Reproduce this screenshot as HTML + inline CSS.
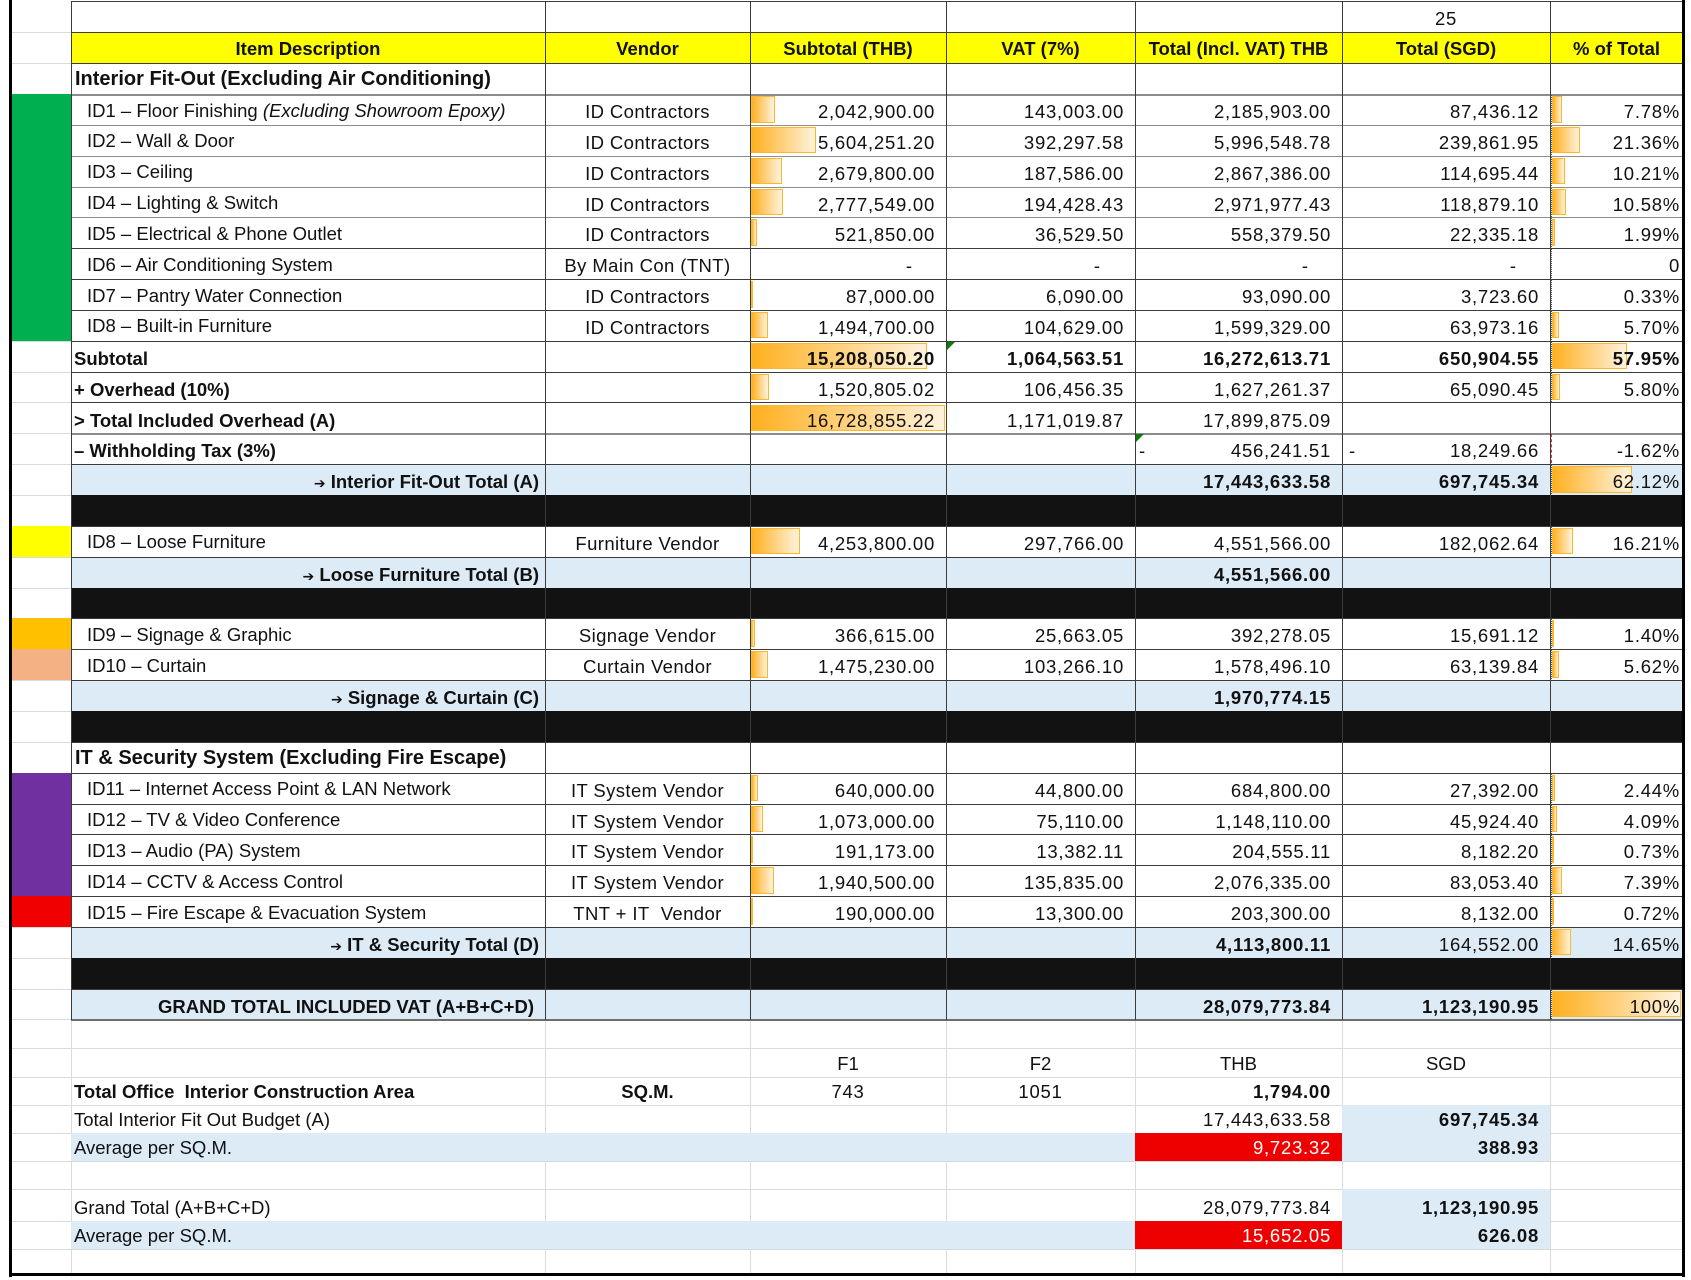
<!DOCTYPE html>
<html><head><meta charset="utf-8">
<style>
body{margin:0;background:#fff}
#p{position:relative;width:1691px;height:1280px;overflow:hidden;background:#fff;font-family:"Liberation Sans",Arial,sans-serif;font-size:18.5px;color:#111}
.a{position:absolute}
.h{position:absolute;height:1px;background:#3c3c3c}
.hg{position:absolute;height:1px;background:#8c8c8c}
.hl{position:absolute;height:1px;background:#dadada}
.v{position:absolute;width:1px;background:#3c3c3c}
.vl{position:absolute;width:1px;background:#dadada}
.r{position:absolute;left:0;width:1691px;height:30.85px}
.t{position:absolute;top:8px;line-height:20px;white-space:nowrap}
.ti{top:6.5px}
.hd{top:5.9px;font-size:20px;font-weight:bold;left:75px}
.n{letter-spacing:0.75px}
.vd{letter-spacing:0.4px}
.b{font-weight:bold}
.L{left:87px}
.S{left:74px;font-weight:bold}
.T{right:1152px;font-weight:bold}
.ar{font-family:"DejaVu Sans",sans-serif;font-size:14px;font-weight:bold}
.cB{left:71px;width:474px;text-align:center}
.cC{left:545px;width:205px;text-align:center}
.cD{left:750px;width:196px;text-align:center}
.cE{left:946px;width:189px;text-align:center}
.cF{left:1135px;width:207px;text-align:center}
.cG{left:1342px;width:208px;text-align:center}
.cH{left:1550px;width:133px;text-align:center}
.rD{right:756px}.rE{right:567px}.rF{right:360px}.rG{right:152px}.rH{right:11px}
.bar{position:absolute;top:2px;height:26.5px;box-sizing:border-box;border:1px solid #FFB628;background:linear-gradient(to right,#FFB020,#FFF3DE)}
.bD{left:751px}.bH{left:1552px}
.ax{position:absolute;left:1551px;top:1px;height:29px;width:0;border-left:1px dotted #555}
.tri{position:absolute;width:0;height:0;border-top:8px solid #0b7d0b;border-right:8px solid transparent}
</style></head><body><div id="p">

<div class="hl" style="left:12px;width:59px;top:32px"></div>
<div class="hl" style="left:12px;width:59px;top:63px"></div>
<div class="hl" style="left:12px;width:59px;top:94px"></div>
<div class="hl" style="left:12px;width:59px;top:341px"></div>
<div class="hl" style="left:12px;width:59px;top:372px"></div>
<div class="hl" style="left:12px;width:59px;top:402px"></div>
<div class="hl" style="left:12px;width:59px;top:433px"></div>
<div class="hl" style="left:12px;width:59px;top:464px"></div>
<div class="hl" style="left:12px;width:59px;top:495px"></div>
<div class="hl" style="left:12px;width:59px;top:526px"></div>
<div class="hl" style="left:12px;width:59px;top:557px"></div>
<div class="hl" style="left:12px;width:59px;top:588px"></div>
<div class="hl" style="left:12px;width:59px;top:618px"></div>
<div class="hl" style="left:12px;width:59px;top:680px"></div>
<div class="hl" style="left:12px;width:59px;top:711px"></div>
<div class="hl" style="left:12px;width:59px;top:742px"></div>
<div class="hl" style="left:12px;width:59px;top:773px"></div>
<div class="hl" style="left:12px;width:59px;top:927px"></div>
<div class="hl" style="left:12px;width:59px;top:958px"></div>
<div class="hl" style="left:12px;width:59px;top:989px"></div>
<div class="hl" style="left:12px;width:1670px;top:1019px"></div>
<div class="hl" style="left:12px;width:1670px;top:1048px"></div>
<div class="hl" style="left:12px;width:1670px;top:1077px"></div>
<div class="hl" style="left:12px;width:1670px;top:1105px"></div>
<div class="hl" style="left:12px;width:1670px;top:1133px"></div>
<div class="hl" style="left:12px;width:1670px;top:1161px"></div>
<div class="hl" style="left:12px;width:1670px;top:1189px"></div>
<div class="hl" style="left:12px;width:1670px;top:1221px"></div>
<div class="hl" style="left:12px;width:1670px;top:1249px"></div>
<div class="vl" style="left:71px;top:1020px;height:254px"></div>
<div class="vl" style="left:545px;top:1020px;height:254px"></div>
<div class="vl" style="left:750px;top:1020px;height:254px"></div>
<div class="vl" style="left:946px;top:1020px;height:254px"></div>
<div class="vl" style="left:1135px;top:1020px;height:254px"></div>
<div class="vl" style="left:1342px;top:1020px;height:254px"></div>
<div class="vl" style="left:1550px;top:1020px;height:254px"></div>

<div class="a" style="left:12px;width:59px;top:94px;height:246.8px;background:#00B050"></div>
<div class="a" style="left:12px;width:59px;top:525.9px;height:30.85px;background:#FFFF00"></div>
<div class="a" style="left:12px;width:59px;top:618.45px;height:30.85px;background:#FFC000"></div>
<div class="a" style="left:12px;width:59px;top:649.3px;height:30.85px;background:#F4B183"></div>
<div class="a" style="left:12px;width:59px;top:772.7px;height:123.4px;background:#7030A0"></div>
<div class="a" style="left:12px;width:59px;top:896.1px;height:30.85px;background:#F00000"></div>

<div class="a" style="left:71px;width:1612px;top:32.3px;height:30.85px;background:#FFFF00"></div>
<div class="a" style="left:71px;width:1612px;top:464.2px;height:30.85px;background:#DDEBF7"></div>
<div class="a" style="left:71px;width:1612px;top:556.75px;height:30.85px;background:#DDEBF7"></div>
<div class="a" style="left:71px;width:1612px;top:680.15px;height:30.85px;background:#DDEBF7"></div>
<div class="a" style="left:71px;width:1612px;top:926.95px;height:30.85px;background:#DDEBF7"></div>
<div class="a" style="left:71px;width:1612px;top:988.65px;height:30.85px;background:#DDEBF7"></div>
<div class="a" style="left:71px;width:1612px;top:495.05px;height:30.85px;background:#121212"></div>
<div class="a" style="left:71px;width:1612px;top:587.6px;height:30.85px;background:#121212"></div>
<div class="a" style="left:71px;width:1612px;top:711px;height:30.85px;background:#121212"></div>
<div class="a" style="left:71px;width:1612px;top:957.8px;height:30.85px;background:#121212"></div>

<div class="a" style="left:71px;width:1064px;top:1133px;height:28px;background:#DDEBF7"></div>
<div class="a" style="left:71px;width:1064px;top:1221px;height:28px;background:#DDEBF7"></div>
<div class="a" style="left:1135px;width:207px;top:1133px;height:28px;background:#EE0000"></div>
<div class="a" style="left:1135px;width:207px;top:1221px;height:28px;background:#EE0000"></div>
<div class="a" style="left:1342px;width:208px;top:1105px;height:56px;background:#DDEBF7"></div>
<div class="a" style="left:1342px;width:208px;top:1189px;height:60px;background:#DDEBF7"></div>

<div class="h" style="left:71px;width:1612px;top:1px"></div>
<div class="h" style="left:71px;width:1612px;top:32px"></div>
<div class="h" style="left:71px;width:1612px;top:63px"></div>
<div class="hg" style="left:71px;width:1612px;top:94px;height:2px"></div>
<div class="hg" style="left:71px;width:1612px;top:125px"></div>
<div class="hg" style="left:71px;width:1612px;top:156px"></div>
<div class="hg" style="left:71px;width:1612px;top:187px"></div>
<div class="hg" style="left:71px;width:1612px;top:217px"></div>
<div class="h" style="left:71px;width:1612px;top:248px"></div>
<div class="h" style="left:71px;width:1612px;top:279px"></div>
<div class="h" style="left:71px;width:1612px;top:310px"></div>
<div class="h" style="left:71px;width:1612px;top:341px"></div>
<div class="h" style="left:71px;width:1612px;top:372px"></div>
<div class="h" style="left:71px;width:1612px;top:402px"></div>
<div class="hg" style="left:71px;width:1612px;top:433px;height:2px"></div>
<div class="h" style="left:71px;width:1612px;top:464px"></div>
<div class="h" style="left:71px;width:1612px;top:526px"></div>
<div class="h" style="left:71px;width:1612px;top:557px"></div>
<div class="h" style="left:71px;width:1612px;top:618px"></div>
<div class="h" style="left:71px;width:1612px;top:649px"></div>
<div class="h" style="left:71px;width:1612px;top:680px"></div>
<div class="h" style="left:71px;width:1612px;top:742px"></div>
<div class="h" style="left:71px;width:1612px;top:773px"></div>
<div class="h" style="left:71px;width:1612px;top:804px"></div>
<div class="h" style="left:71px;width:1612px;top:834px"></div>
<div class="h" style="left:71px;width:1612px;top:865px"></div>
<div class="h" style="left:71px;width:1612px;top:896px"></div>
<div class="h" style="left:71px;width:1612px;top:927px"></div>
<div class="h" style="left:71px;width:1612px;top:989px"></div>
<div class="hg" style="left:71px;width:1612px;top:1019px;height:2px;background:#6e6e6e"></div>
<div class="v" style="left:71px;top:1px;height:1019px"></div>
<div class="v" style="left:545px;top:1px;height:1019px"></div>
<div class="v" style="left:750px;top:1px;height:1019px"></div>
<div class="v" style="left:946px;top:1px;height:1019px"></div>
<div class="v" style="left:1135px;top:1px;height:1019px"></div>
<div class="v" style="left:1342px;top:1px;height:1019px"></div>
<div class="v" style="left:1550px;top:1px;height:1019px"></div>

<div class="r" style="top:1.45px"><div class="t n cG">25</div></div>

<div class="r b" style="top:32.3px">
<div class="t cB" style="top:7px">Item Description</div>
<div class="t cC" style="top:7px">Vendor</div>
<div class="t cD" style="top:7px">Subtotal (THB)</div>
<div class="t cE" style="top:7px">VAT (7%)</div>
<div class="t cF" style="top:7px">Total (Incl. VAT) THB</div>
<div class="t cG" style="top:7px">Total (SGD)</div>
<div class="t cH" style="top:7px">% of Total</div>
</div>

<div class="r" style="top:63.15px"><div class="t hd">Interior Fit-Out (Excluding Air Conditioning)</div></div>

<div class="r" style="top:94px">
<div class="t ti L">ID1 – Floor Finishing <i>(Excluding Showroom Epoxy)</i></div>
<div class="t vd cC">ID Contractors</div>
<div class="bar bD" style="width:23.7px"></div>
<div class="t n rD">2,042,900.00</div>
<div class="t n rE">143,003.00</div>
<div class="t n rF">2,185,903.00</div>
<div class="t n rG">87,436.12</div>
<div class="ax"></div><div class="bar bH" style="width:10px"></div>
<div class="t n rH">7.78%</div>
</div>

<div class="r" style="top:124.85px">
<div class="t ti L">ID2 – Wall &amp; Door</div>
<div class="t vd cC">ID Contractors</div>
<div class="bar bD" style="width:65px"></div>
<div class="t n rD">5,604,251.20</div>
<div class="t n rE">392,297.58</div>
<div class="t n rF">5,996,548.78</div>
<div class="t n rG">239,861.95</div>
<div class="ax"></div><div class="bar bH" style="width:27.6px"></div>
<div class="t n rH">21.36%</div>
</div>

<div class="r" style="top:155.7px">
<div class="t ti L">ID3 – Ceiling</div>
<div class="t vd cC">ID Contractors</div>
<div class="bar bD" style="width:31.1px"></div>
<div class="t n rD">2,679,800.00</div>
<div class="t n rE">187,586.00</div>
<div class="t n rF">2,867,386.00</div>
<div class="t n rG">114,695.44</div>
<div class="ax"></div><div class="bar bH" style="width:13.2px"></div>
<div class="t n rH">10.21%</div>
</div>

<div class="r" style="top:186.55px">
<div class="t ti L">ID4 – Lighting &amp; Switch</div>
<div class="t vd cC">ID Contractors</div>
<div class="bar bD" style="width:32.2px"></div>
<div class="t n rD">2,777,549.00</div>
<div class="t n rE">194,428.43</div>
<div class="t n rF">2,971,977.43</div>
<div class="t n rG">118,879.10</div>
<div class="ax"></div><div class="bar bH" style="width:13.6px"></div>
<div class="t n rH">10.58%</div>
</div>

<div class="r" style="top:217.4px">
<div class="t ti L">ID5 – Electrical &amp; Phone Outlet</div>
<div class="t vd cC">ID Contractors</div>
<div class="bar bD" style="width:6.1px"></div>
<div class="t n rD">521,850.00</div>
<div class="t n rE">36,529.50</div>
<div class="t n rF">558,379.50</div>
<div class="t n rG">22,335.18</div>
<div class="ax"></div><div class="bar bH" style="width:2.6px"></div>
<div class="t n rH">1.99%</div>
</div>

<div class="r" style="top:248.25px">
<div class="t ti L">ID6 – Air Conditioning System</div>
<div class="t vd cC">By Main Con (TNT)</div>
<div class="t" style="right:779px">-</div>
<div class="t" style="right:591px">-</div>
<div class="t" style="right:383px">-</div>
<div class="t" style="right:175px">-</div>
<div class="ax"></div>
<div class="t n rH">0</div>
</div>

<div class="r" style="top:279.1px">
<div class="t ti L">ID7 – Pantry Water Connection</div>
<div class="t vd cC">ID Contractors</div>
<div class="bar bD" style="width:1.5px"></div>
<div class="t n rD">87,000.00</div>
<div class="t n rE">6,090.00</div>
<div class="t n rF">93,090.00</div>
<div class="t n rG">3,723.60</div>
<div class="ax"></div>
<div class="t n rH">0.33%</div>
</div>

<div class="r" style="top:309.95px">
<div class="t ti L">ID8 – Built-in Furniture</div>
<div class="t vd cC">ID Contractors</div>
<div class="bar bD" style="width:17.3px"></div>
<div class="t n rD">1,494,700.00</div>
<div class="t n rE">104,629.00</div>
<div class="t n rF">1,599,329.00</div>
<div class="t n rG">63,973.16</div>
<div class="ax"></div><div class="bar bH" style="width:7.4px"></div>
<div class="t n rH">5.70%</div>
</div>

<div class="r" style="top:340.8px">
<div class="t S">Subtotal</div>
<div class="bar bD" style="width:176.4px"></div>
<div class="t n b rD">15,208,050.20</div>
<div class="tri" style="left:947px;top:1px"></div>
<div class="t n b rE">1,064,563.51</div>
<div class="t n b rF">16,272,613.71</div>
<div class="t n b rG">650,904.55</div>
<div class="ax"></div><div class="bar bH" style="width:74.8px"></div>
<div class="t n b rH">57.95%</div>
</div>

<div class="r" style="top:371.65px">
<div class="t S">+ Overhead (10%)</div>
<div class="bar bD" style="width:17.6px"></div>
<div class="t n rD">1,520,805.02</div>
<div class="t n rE">106,456.35</div>
<div class="t n rF">1,627,261.37</div>
<div class="t n rG">65,090.45</div>
<div class="ax"></div><div class="bar bH" style="width:7.5px"></div>
<div class="t n rH">5.80%</div>
</div>

<div class="r" style="top:402.5px">
<div class="t S">&gt; Total Included Overhead (A)</div>
<div class="bar bD" style="width:194px"></div>
<div class="t n rD">16,728,855.22</div>
<div class="t n rE">1,171,019.87</div>
<div class="t n rF">17,899,875.09</div>
</div>

<div class="r" style="top:433.35px">
<div class="t S">– Withholding Tax (3%)</div>
<div class="tri" style="left:1136px;top:1px"></div>
<div class="t" style="left:1139px">-</div>
<div class="t n rF">456,241.51</div>
<div class="t" style="left:1349px">-</div>
<div class="t n rG">18,249.66</div>
<div class="ax" style="border-left:1px dashed #e03030"></div>
<div class="t n rH">-1.62%</div>
</div>

<div class="r" style="top:464.2px">
<div class="t T"><span class="ar">➔</span> Interior Fit-Out Total (A)</div>
<div class="t n b rF">17,443,633.58</div>
<div class="t n b rG">697,745.34</div>
<div class="ax"></div><div class="bar bH" style="width:80.1px"></div>
<div class="t n rH">62.12%</div>
</div>

<div class="r" style="top:525.9px">
<div class="t ti L">ID8 – Loose Furniture</div>
<div class="t vd cC">Furniture Vendor</div>
<div class="bar bD" style="width:49px"></div>
<div class="t n rD">4,253,800.00</div>
<div class="t n rE">297,766.00</div>
<div class="t n rF">4,551,566.00</div>
<div class="t n rG">182,062.64</div>
<div class="ax"></div><div class="bar bH" style="width:20.9px"></div>
<div class="t n rH">16.21%</div>
</div>

<div class="r" style="top:556.75px">
<div class="t T"><span class="ar">➔</span> Loose Furniture Total (B)</div>
<div class="t n b rF">4,551,566.00</div>
</div>

<div class="r" style="top:618.45px">
<div class="t ti L">ID9 – Signage &amp; Graphic</div>
<div class="t vd cC">Signage Vendor</div>
<div class="bar bD" style="width:4.3px"></div>
<div class="t n rD">366,615.00</div>
<div class="t n rE">25,663.05</div>
<div class="t n rF">392,278.05</div>
<div class="t n rG">15,691.12</div>
<div class="ax"></div><div class="bar bH" style="width:2px"></div>
<div class="t n rH">1.40%</div>
</div>

<div class="r" style="top:649.3px">
<div class="t ti L">ID10 – Curtain</div>
<div class="t vd cC">Curtain Vendor</div>
<div class="bar bD" style="width:17.1px"></div>
<div class="t n rD">1,475,230.00</div>
<div class="t n rE">103,266.10</div>
<div class="t n rF">1,578,496.10</div>
<div class="t n rG">63,139.84</div>
<div class="ax"></div><div class="bar bH" style="width:7.2px"></div>
<div class="t n rH">5.62%</div>
</div>

<div class="r" style="top:680.15px">
<div class="t T"><span class="ar">➔</span> Signage &amp; Curtain (C)</div>
<div class="t n b rF">1,970,774.15</div>
</div>

<div class="r" style="top:741.85px"><div class="t hd">IT &amp; Security System (Excluding Fire Escape)</div></div>

<div class="r" style="top:772.7px">
<div class="t ti L">ID11 – Internet Access Point &amp; LAN Network</div>
<div class="t vd cC">IT System Vendor</div>
<div class="bar bD" style="width:7.4px"></div>
<div class="t n rD">640,000.00</div>
<div class="t n rE">44,800.00</div>
<div class="t n rF">684,800.00</div>
<div class="t n rG">27,392.00</div>
<div class="ax"></div><div class="bar bH" style="width:3.1px"></div>
<div class="t n rH">2.44%</div>
</div>

<div class="r" style="top:803.55px">
<div class="t ti L">ID12 – TV &amp; Video Conference</div>
<div class="t vd cC">IT System Vendor</div>
<div class="bar bD" style="width:12.4px"></div>
<div class="t n rD">1,073,000.00</div>
<div class="t n rE">75,110.00</div>
<div class="t n rF">1,148,110.00</div>
<div class="t n rG">45,924.40</div>
<div class="ax"></div><div class="bar bH" style="width:5.3px"></div>
<div class="t n rH">4.09%</div>
</div>

<div class="r" style="top:834.4px">
<div class="t ti L">ID13 – Audio (PA) System</div>
<div class="t vd cC">IT System Vendor</div>
<div class="bar bD" style="width:2.2px"></div>
<div class="t n rD">191,173.00</div>
<div class="t n rE">13,382.11</div>
<div class="t n rF">204,555.11</div>
<div class="t n rG">8,182.20</div>
<div class="ax"></div><div class="bar bH" style="width:1.2px"></div>
<div class="t n rH">0.73%</div>
</div>

<div class="r" style="top:865.25px">
<div class="t ti L">ID14 – CCTV &amp; Access Control</div>
<div class="t vd cC">IT System Vendor</div>
<div class="bar bD" style="width:22.5px"></div>
<div class="t n rD">1,940,500.00</div>
<div class="t n rE">135,835.00</div>
<div class="t n rF">2,076,335.00</div>
<div class="t n rG">83,053.40</div>
<div class="ax"></div><div class="bar bH" style="width:9.5px"></div>
<div class="t n rH">7.39%</div>
</div>

<div class="r" style="top:896.1px">
<div class="t ti L">ID15 – Fire Escape &amp; Evacuation System</div>
<div class="t vd cC">TNT + IT&nbsp; Vendor</div>
<div class="bar bD" style="width:2.2px"></div>
<div class="t n rD">190,000.00</div>
<div class="t n rE">13,300.00</div>
<div class="t n rF">203,300.00</div>
<div class="t n rG">8,132.00</div>
<div class="ax"></div><div class="bar bH" style="width:1.2px"></div>
<div class="t n rH">0.72%</div>
</div>

<div class="r" style="top:926.95px">
<div class="t T"><span class="ar">➔</span> IT &amp; Security Total (D)</div>
<div class="t n b rF">4,113,800.11</div>
<div class="t n rG">164,552.00</div>
<div class="ax"></div><div class="bar bH" style="width:18.9px"></div>
<div class="t n rH">14.65%</div>
</div>

<div class="r" style="top:988.65px">
<div class="t b" style="right:1157px">GRAND TOTAL INCLUDED VAT (A+B+C+D)</div>
<div class="t n b rF">28,079,773.84</div>
<div class="t n b rG">1,123,190.95</div>
<div class="ax"></div><div class="bar bH" style="width:129px"></div>
<div class="t n rH">100%</div>
</div>

<div class="r" style="top:1046.15px">
<div class="t cD">F1</div>
<div class="t cE">F2</div>
<div class="t cF">THB</div>
<div class="t cG">SGD</div>
</div>
<div class="r" style="top:1074.15px">
<div class="t S">Total Office&nbsp; Interior Construction Area</div>
<div class="t b cC">SQ.M.</div>
<div class="t n cD">743</div>
<div class="t n cE">1051</div>
<div class="t n b rF">1,794.00</div>
</div>
<div class="r" style="top:1102.15px">
<div class="t" style="left:74px">Total Interior Fit Out Budget (A)</div>
<div class="t n rF">17,443,633.58</div>
<div class="t n b rG">697,745.34</div>
</div>
<div class="r" style="top:1130.15px">
<div class="t" style="left:74px">Average per SQ.M.</div>
<div class="t n rF" style="color:#fff">9,723.32</div>
<div class="t n b rG">388.93</div>
</div>
<div class="r" style="top:1190.15px">
<div class="t" style="left:74px">Grand Total (A+B+C+D)</div>
<div class="t n rF">28,079,773.84</div>
<div class="t n b rG">1,123,190.95</div>
</div>
<div class="r" style="top:1218.15px">
<div class="t" style="left:74px">Average per SQ.M.</div>
<div class="t n rF" style="color:#fff">15,652.05</div>
<div class="t n b rG">626.08</div>
</div>

<div class="a" style="left:9px;top:0;width:3px;height:1277px;background:#000"></div>
<div class="a" style="left:1682px;top:0;width:3px;height:1277px;background:#000"></div>
<div class="a" style="left:9px;top:1273px;width:1676px;height:3px;background:#000"></div>

</div></body></html>
